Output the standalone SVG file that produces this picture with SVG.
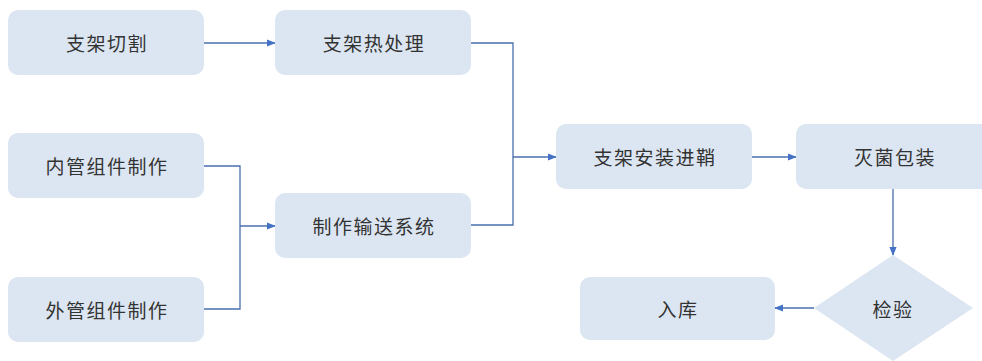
<svg xmlns="http://www.w3.org/2000/svg" width="982" height="361" viewBox="0 0 982 361">
<defs>
<style>
.box{fill:#dce6f2;}
.t{font-family:"Noto Sans CJK SC","Liberation Sans",sans-serif;font-size:19px;fill:#333333;text-anchor:middle;dominant-baseline:central;letter-spacing:1.5px;}
.c{fill:none;stroke:#4a6fae;stroke-width:1.3;}
</style>
<marker id="ah" viewBox="0 0 10 10" refX="9" refY="5" markerWidth="9" markerHeight="9" markerUnits="userSpaceOnUse" orient="auto">
<path d="M0,1 L10,5 L0,9 z" fill="#4472c4"/>
</marker>
</defs>
<rect width="982" height="361" fill="#ffffff"/>
<g id="connectors">
<path class="c" d="M204,43 H275" marker-end="url(#ah)"/>
<path class="c" d="M204,166 H240 V309 H204"/>
<path class="c" d="M240,226 H275" marker-end="url(#ah)"/>
<path class="c" d="M471,43 H513 V225 H471"/>
<path class="c" d="M513,157 H556" marker-end="url(#ah)"/>
<path class="c" d="M752,157 H796" marker-end="url(#ah)"/>
<path class="c" d="M893,189 V255" marker-end="url(#ah)"/>
<path class="c" d="M814,308 H775" marker-end="url(#ah)"/>
</g>
<g id="n1"><rect class="box" x="8" y="10" width="196" height="65" rx="10"/><text class="t" x="107" y="42.5">支架切割</text></g>
<g id="n2"><rect class="box" x="275" y="10" width="196" height="65" rx="10"/><text class="t" x="374" y="42.5">支架热处理</text></g>
<g id="n3"><rect class="box" x="8" y="133" width="196" height="65" rx="10"/><text class="t" x="107" y="165.5">内管组件制作</text></g>
<g id="n4"><rect class="box" x="8" y="277" width="196" height="65" rx="10"/><text class="t" x="107" y="309.5">外管组件制作</text></g>
<g id="n5"><rect class="box" x="275" y="193" width="196" height="65" rx="10"/><text class="t" x="374" y="225.5">制作输送系统</text></g>
<g id="n6"><rect class="box" x="556" y="124" width="196" height="65" rx="10"/><text class="t" x="655" y="156.5">支架安装进鞘</text></g>
<g id="n7"><rect class="box" x="796" y="124" width="196" height="65" rx="10"/><text class="t" x="895" y="156.5">灭菌包装</text></g>
<g id="n8"><path class="box" d="M893,255 L973,308 L893,361 L814,308 Z"/><text class="t" x="893" y="308">检验</text></g>
<g id="n9"><rect class="box" x="580" y="277" width="195" height="63" rx="10"/><text class="t" x="678" y="308.5">入库</text></g>
</svg>
